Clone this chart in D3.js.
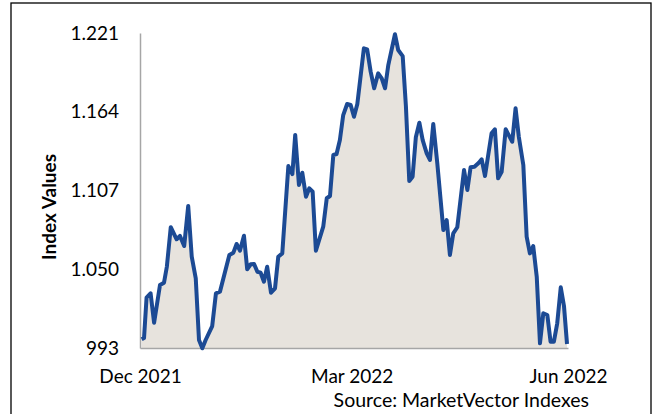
<!DOCTYPE html>
<html>
<head>
<meta charset="utf-8">
<script src="https://cdn.jsdelivr.net/npm/d3@7"></script>
<style>
  body { margin: 0; background: #fff; }
  svg text { font-family: Lato, "Open Sans", sans-serif; fill: #000; }
</style>
</head>
<body>
<div id="chart"></div>
<script>
// day offsets from 1 Dec 2021 (fractional) and index values
const dayOffsets = [
  0.7, 1.7, 2.8, 4.5, 6.0, 8.5, 10.2, 11.4, 13.1, 15.6, 17.0, 18.8, 20.5, 22.0, 23.7, 25.1,
  26.5, 27.9, 30.7, 32.3, 34.0, 38.0, 39.7, 41.1, 42.5, 44.2, 45.6, 47.1, 48.5, 49.9, 51.3,
  52.7, 54.1, 55.7, 57.4, 58.8, 60.5, 63.1, 64.8, 66.0, 67.6, 69.0, 70.6, 72.0, 73.4, 74.8,
  77.9, 79.4, 80.8, 82.2, 83.6, 85.0, 86.4, 88.1, 89.6, 91.0, 92.4, 95.2, 96.6, 98.1, 99.6,
  101.3, 102.8, 104.2, 105.6, 108.4, 109.8, 111.7, 113.1, 114.5, 115.9, 117.3, 118.8, 120.2,
  121.9, 123.3, 124.7, 126.4, 129.0, 130.4, 131.8, 133.2, 134.9, 137.8, 139.2, 140.6, 142.2,
  144.1, 145.3, 146.7, 149.5, 150.9, 152.3, 153.8, 155.5, 158.3, 159.7, 161.1, 163.0, 164.4,
  165.8, 167.2, 168.7, 170.1, 171.5, 173.2, 174.6, 176.0, 177.4, 178.9, 180.3, 181.6
];
const indexValues = [
  999.3, 1000.2, 1029.4, 1032.6, 1011.3, 1038.6, 1040.3, 1051.8, 1080.4, 1071.7, 1074.1, 1066.8,
  1095.8, 1059.1, 1043.4, 998.8, 992.8, 998.8, 1008.9, 1032.6, 1033.8, 1060.3, 1062.0, 1068.3,
  1063.4, 1074.3, 1050.0, 1053.6, 1053.8, 1048.2, 1047.5, 1041.0, 1051.8, 1033.0, 1036.2,
  1059.1, 1061.5, 1124.7, 1118.9, 1147.2, 1111.0, 1119.9, 1102.5, 1108.6, 1106.1, 1063.4,
  1080.8, 1101.4, 1103.0, 1132.7, 1133.4, 1143.5, 1161.6, 1169.6, 1168.9, 1160.4, 1169.6,
  1209.9, 1209.2, 1193.0, 1181.0, 1191.8, 1188.2, 1181.0, 1197.8, 1220.1, 1208.7, 1204.3,
  1167.7, 1113.9, 1117.0, 1145.5, 1156.1, 1143.5, 1133.9, 1129.1, 1155.1, 1126.7, 1078.4,
  1085.6, 1060.3, 1076.0, 1080.4, 1121.8, 1107.4, 1123.8, 1124.2, 1127.1, 1129.6, 1117.5,
  1148.4, 1151.3, 1115.8, 1120.6, 1151.3, 1142.3, 1166.5, 1145.9, 1125.5, 1073.6, 1061.5,
  1066.8, 1044.6, 996.4, 1018.1, 1016.9, 997.6, 997.6, 1010.9, 1036.9, 1023.4, 995.9
];
const yTicks = [993, 1050, 1107, 1164, 1221];
const xTickDates = ['2021-12-01', '2022-03-01', '2022-06-01'];
const yTitle = 'Index Values';
const sourceNote = 'Source: MarketVector Indexes';

const width = 657;
const height = 414;
const plot = { left: 140, right: 568, top: 33, bottom: 348 };
const fontSize = '19px';

const parseDate = d3.utcParse('%Y-%m-%d');
const start = parseDate('2021-12-01');
const data = dayOffsets.map((d, i) => ({
  date: d3.utcHour.offset(start, Math.round(d * 24)),
  value: indexValues[i],
}));

const svg = d3
  .select('#chart')
  .append('svg')
  .attr('width', width)
  .attr('height', height);

// outer frame (bottom edge falls outside the picture)
svg
  .append('rect')
  .attr('x', 11)
  .attr('y', 3)
  .attr('width', 640)
  .attr('height', 430)
  .attr('fill', 'none')
  .attr('stroke', '#000')
  .attr('stroke-width', 1.3);

const x = d3
  .scaleUtc()
  .domain([parseDate('2021-12-01'), parseDate('2022-06-01')])
  .range([plot.left, plot.right]);

const y = d3
  .scaleLinear()
  .domain([yTicks[0], yTicks[yTicks.length - 1]])
  .range([plot.bottom, plot.top]);

// 1.050 style labels, 993 stays plain
const numFmt = d3.formatLocale({
  decimal: ',',
  thousands: '.',
  grouping: [3],
  currency: ['', ''],
}).format(',');

const area = d3
  .area()
  .x((d) => x(d.date))
  .y0(plot.bottom)
  .y1((d) => y(d.value));

const line = d3
  .line()
  .x((d) => x(d.date))
  .y((d) => y(d.value));

svg.append('path').datum(data).attr('d', area).attr('fill', '#e7e3dd');

// y axis
const yAxis = svg
  .append('g')
  .attr('transform', `translate(${plot.left},0)`)
  .call(
    d3.axisLeft(y).tickValues(yTicks).tickSize(0).tickPadding(21).tickFormat(numFmt)
  );
yAxis.select('.domain').attr('stroke', '#a6a6a6').attr('stroke-width', 1.5);
yAxis.selectAll('text').style('font-size', fontSize).style('font-family', 'Lato, sans-serif');

// x axis
const xAxis = svg
  .append('g')
  .attr('transform', `translate(0,${plot.bottom})`)
  .call(
    d3
      .axisBottom(x)
      .tickValues(xTickDates.map(parseDate))
      .tickSize(0)
      .tickPadding(22)
      .tickFormat(d3.utcFormat('%b %Y'))
  );
xAxis.select('.domain').attr('stroke', '#a6a6a6').attr('stroke-width', 1.5);
xAxis.selectAll('text').style('font-size', fontSize).style('font-family', 'Lato, sans-serif');

svg
  .append('path')
  .datum(data)
  .attr('d', line)
  .attr('fill', 'none')
  .attr('stroke', '#1c4a94')
  .attr('stroke-width', 4)
  .attr('stroke-linejoin', 'round');

svg
  .append('text')
  .attr('transform', 'translate(56,207) rotate(-90)')
  .attr('text-anchor', 'middle')
  .style('font-size', fontSize)
  .style('font-weight', 'bold')
  .text(yTitle);

svg
  .append('text')
  .attr('x', 589)
  .attr('y', 407)
  .attr('text-anchor', 'end')
  .style('font-size', '19.5px')
  .text(sourceNote);
</script>
</body>
</html>
